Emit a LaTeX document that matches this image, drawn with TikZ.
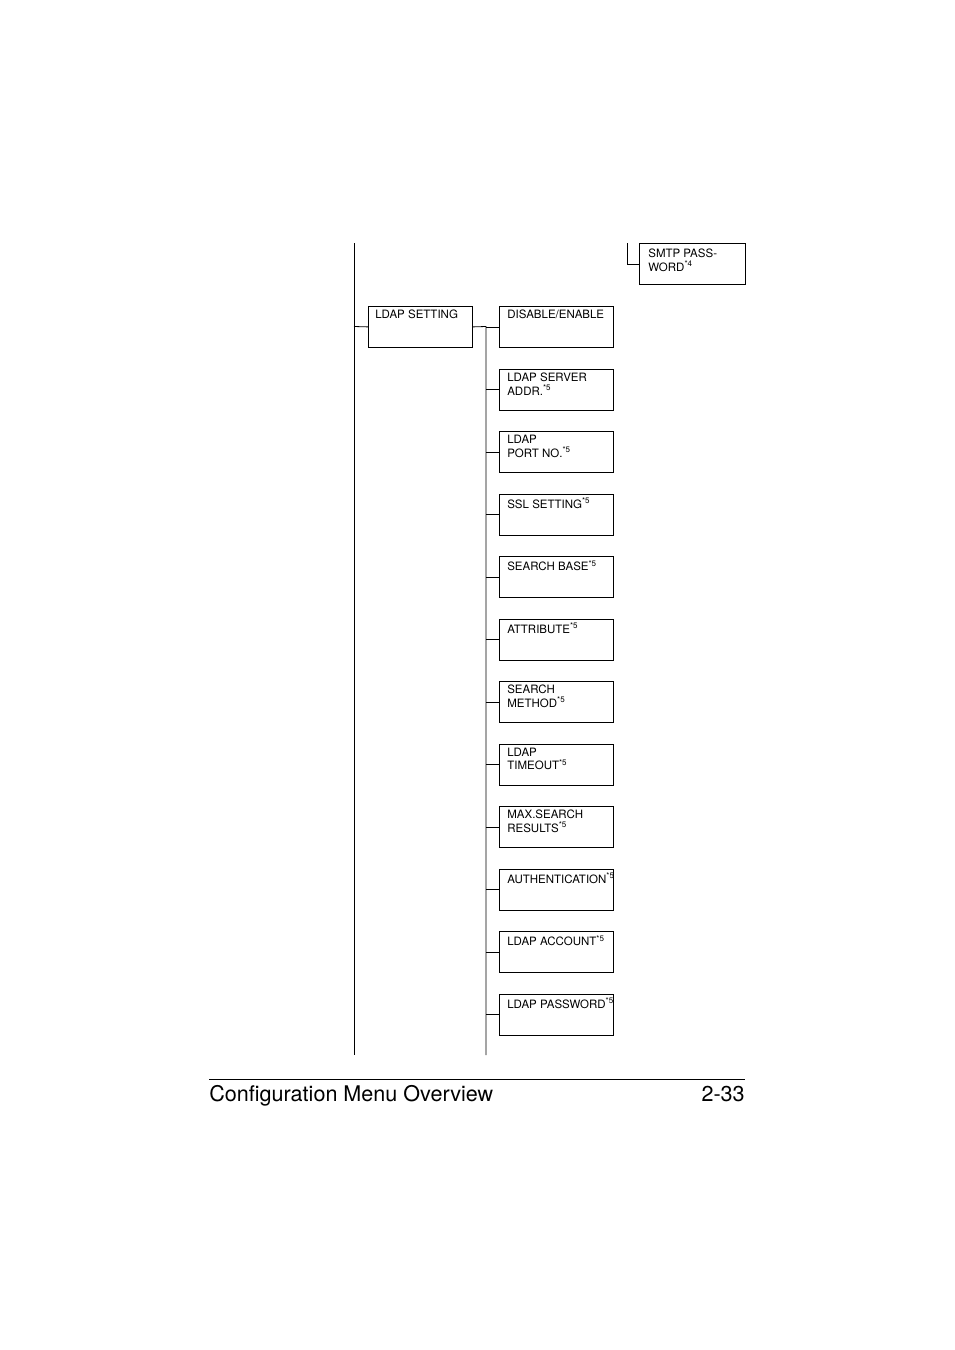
\documentclass[tikz,border=0pt]{standalone}
\usepackage{fontspec}
\setmainfont{TeX Gyre Heros}
\usepackage{tikz}

\begin{document}
\begin{tikzpicture}[x=0.22mm, y=-0.22mm,
    menubox/.style={draw, line width=0.5pt, minimum width=114*0.22mm, minimum height=41*0.22mm, inner sep=0pt, anchor=north west},
    menutext/.style={anchor=north west, align=left, font=\fontsize{7.2}{8.6}\selectfont, inner sep=0pt},
    branch/.style={line width=0.5pt}]
    \useasboundingbox (0,0) rectangle (954,1350);
    \newcommand{\nt}{\textsuperscript{\tiny *5}}

    % main trunk
    \coordinate (trunktop) at (354,243);
    \coordinate (trunkbot) at (354,1055);
    \draw[branch] (trunktop) -- (trunkbot);

    % smtp password (continued from previous page)
    \node[menubox, minimum width=106*0.22mm] (smtp) at (639,243) {};
    \node[menutext] (smtptxt) at ([xshift=9*0.22mm, yshift=-6*0.22mm]smtp.north west) {SMTP PASS-\\WORD\textsuperscript{\tiny *4}};
    \coordinate (smtptop) at (627,243);
    \draw[branch] (smtptop) |- (smtp.west);

    % ldap setting
    \node[menubox, minimum width=104*0.22mm] (ldap) at (368,306) {};
    \node[menutext] (ldaptxt) at ([xshift=7*0.22mm, yshift=-4*0.22mm]ldap.north west) {LDAP SETTING};
    \coordinate (ldapjoin) at (354,326.5);
    \draw[branch] (ldapjoin) -- (ldap.west);

    % sub menu trunk
    \coordinate (subtop) at (486,326.5);
    \coordinate (subbot) at (486,1055);
    \draw[branch] (ldap.east) -- (subtop) -- (subbot);

    \foreach \i/\txt in {0/{DISABLE/ENABLE}, 1/{LDAP SERVER\\ADDR.\nt}, 2/{LDAP\\PORT NO.\nt},
        3/{SSL SETTING\nt}, 4/{SEARCH BASE\nt}, 5/{ATTRIBUTE\nt}, 6/{SEARCH\\METHOD\nt},
        7/{LDAP\\TIMEOUT\nt}, 8/{MAX.SEARCH\\RESULTS\nt}, 9/{AUTHENTICATION\nt},
        10/{LDAP ACCOUNT\nt}, 11/{LDAP PASSWORD\nt}} {
        \node[menubox] (sub\i) at (499,306+62.5*\i) {};
        \node[menutext] (subtxt\i) at ([xshift=8*0.22mm, yshift=-4*0.22mm]sub\i.north west) {\txt};
        \draw[branch] (subtop |- sub\i.west) -- (sub\i.west);
    }

    % footer
    \coordinate (footl) at (209,1079);
    \coordinate (footr) at (745,1079);
    \draw[line width=0.6pt] (footl) -- (footr);
    \node[anchor=base west, inner sep=0pt, font=\fontsize{13.5}{16}\selectfont] (foottitle) at (209,1101) {Configuration Menu Overview};
    \node[anchor=base east, inner sep=0pt, font=\fontsize{13.5}{16}\selectfont] (footpage) at (745,1101) {2-33};
\end{tikzpicture}
\end{document}
